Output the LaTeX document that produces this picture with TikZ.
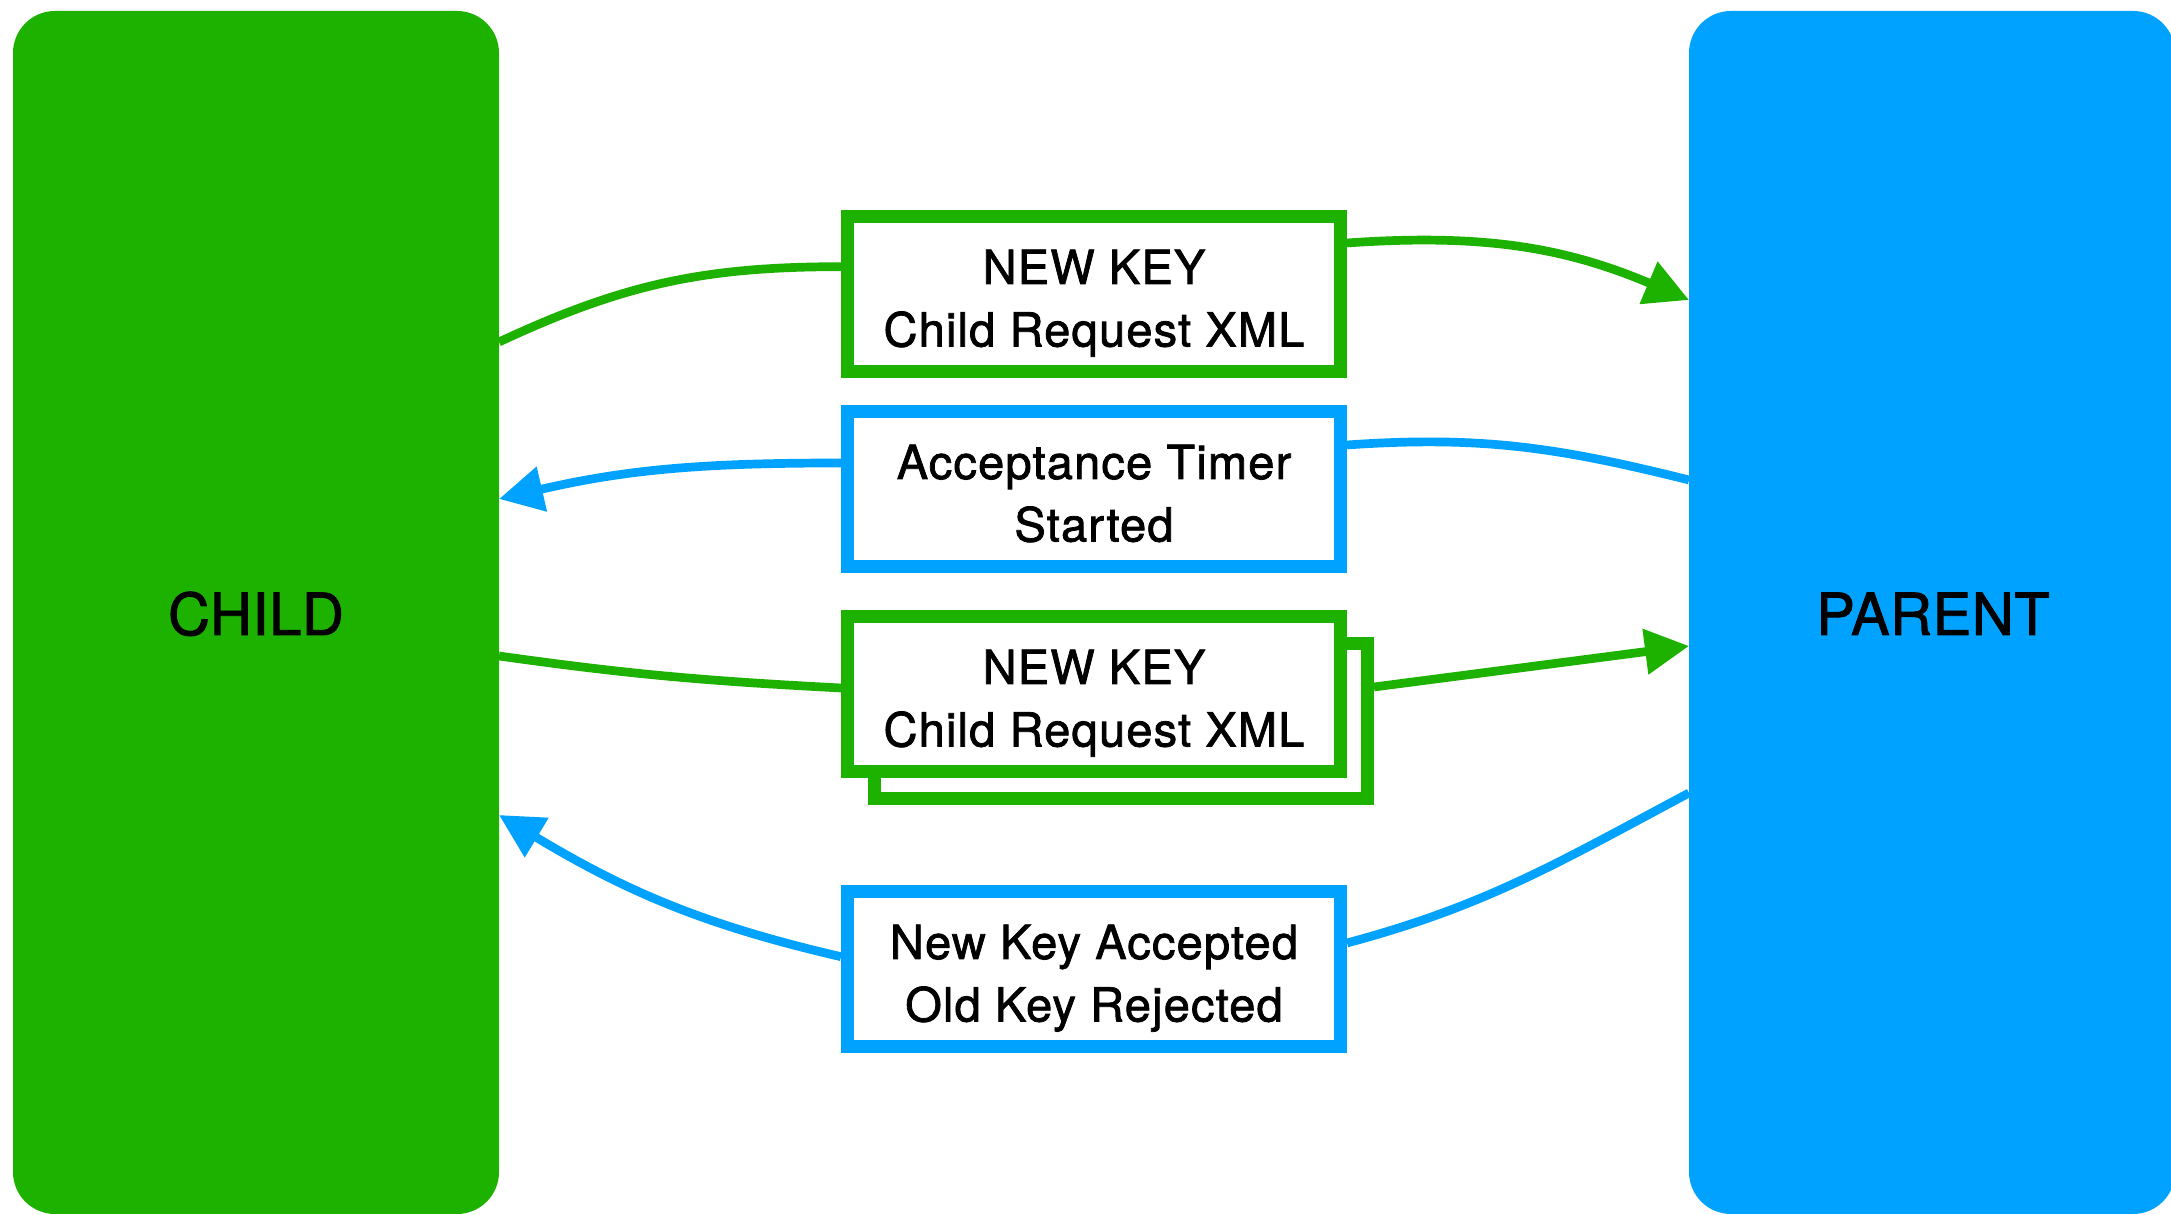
\documentclass[tikz,border=0pt]{standalone}
\usepackage{fontspec}
\setmainfont{TeX Gyre Heros}
\newfontfamily\msgfont{TeX Gyre Heros}[FakeBold=1.6, LetterSpace=2.5]
\newfontfamily\blockfont{TeX Gyre Heros}[FakeBold=1.6, LetterSpace=1]
\usetikzlibrary{arrows.meta}
\definecolor{kgreen}{RGB}{29,177,0}
\definecolor{kblue}{RGB}{0,162,255}
\begin{document}
\begin{tikzpicture}[x=1pt,y=1pt,
  block/.style={rectangle, rounded corners=42pt, minimum width=486pt,
    minimum height=1203pt, inner sep=0pt, outer sep=0pt},
  blocklabel/.style={anchor=base, font=\blockfont\fontsize{58}{69}\selectfont},
  msgbox/.style={rectangle, draw=#1, fill=white, line width=13.4pt,
    minimum width=492.6pt, minimum height=155pt, inner sep=0pt, outer sep=6.7pt},
  msgtext/.style={anchor=base, font=\msgfont\fontsize{47}{56}\selectfont},
  conn/.style={draw=#1, line width=8.7pt},
  headed/.style={-{Triangle[length=44pt,width=44pt]}}
]
\useasboundingbox (0,0) rectangle (2171,1215);

% the two parties
\node[block, fill=kgreen] (child) at (256,602.5) {};
\node[block, fill=kblue] (parent) at (1932,602.5) {};
\node[blocklabel] (childlbl) at (256,580) {CHILD};
\node[blocklabel] (parentlbl) at (1933,580) {PARENT};

% messages exchanged
\node[msgbox=kgreen] (req1) at (1094,920.8) {};
\node[msgbox=kblue] (timer) at (1094,725.8) {};
\node[msgbox=kgreen] (req2back) at (1121,493.8) {};
\node[msgbox=kgreen] (req2) at (1094,520.8) {};
\node[msgbox=kblue] (accept) at (1094,245.8) {};

\node[msgtext] (req1a) at ([yshift=10.2pt]req1.center) {NEW KEY};
\node[msgtext] (req1b) at ([yshift=-52.3pt]req1.center) {Child Request XML};
\node[msgtext] (timera) at ([yshift=10.2pt]timer.center) {Acceptance Timer};
\node[msgtext] (timerb) at ([yshift=-52.3pt]timer.center) {Started};
\node[msgtext] (req2a) at ([yshift=10.2pt]req2.center) {NEW KEY};
\node[msgtext] (req2b) at ([yshift=-52.3pt]req2.center) {Child Request XML};
\node[msgtext] (accepta) at ([yshift=10.2pt]accept.center) {New Key Accepted};
\node[msgtext] (acceptb) at ([yshift=-52.3pt]accept.center) {Old Key Rejected};

% flows
\draw[conn=kgreen] ([yshift=270.5pt]child.east) to[out=25,in=180] ([yshift=27.5pt]req1.west);
\draw[conn=kgreen, headed] ([yshift=51.2pt]req1.east) to[out=4,in=157] ([yshift=312.5pt]parent.west);
\draw[conn=kblue] ([yshift=132.5pt]parent.west) to[out=166,in=4] ([yshift=44.2pt]timer.east);
\draw[conn=kblue, headed] ([yshift=26.2pt]timer.west) to[out=180,in=13] ([yshift=113.5pt]child.east);
\draw[conn=kgreen] ([yshift=-43.5pt]child.east) to[out=-8,in=177] ([yshift=6.2pt]req2.west);
\draw[conn=kgreen, headed] ([yshift=34.2pt]req2back.east) -- ([yshift=-33.5pt]parent.west);
\draw[conn=kblue] ([yshift=-180.5pt]parent.west) to[out=208,in=15] ([yshift=26.2pt]accept.east);
\draw[conn=kblue, headed] ([yshift=12.5pt]accept.west) to[out=167,in=-31] ([yshift=-202.5pt]child.east);
\end{tikzpicture}
\end{document}
